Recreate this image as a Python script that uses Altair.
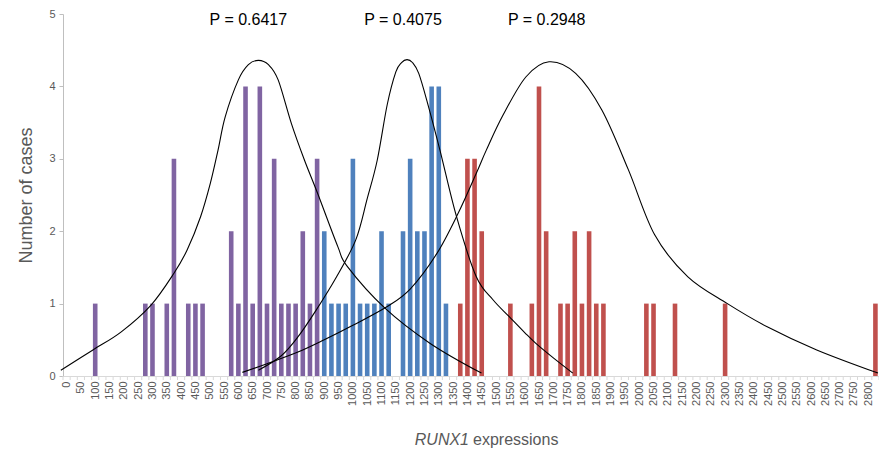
import altair as alt
import pandas as pd

# ---------------- data ----------------
categories = list(range(0, 2850, 25))  # category axis 0 .. 2825 (step 25)

purple_x = [100, 275, 300, 350, 375, 425, 450, 475, 575, 600, 625, 650, 675, 700, 725, 750, 775, 800, 825, 850, 875]
purple_n = [1, 1, 1, 1, 3, 1, 1, 1, 2, 1, 4, 1, 4, 1, 3, 1, 1, 1, 2, 1, 3]

blue_x = [900, 925, 950, 975, 1000, 1025, 1050, 1075, 1100, 1125, 1175, 1200, 1225, 1250, 1275, 1300, 1325]
blue_n = [2, 1, 1, 1, 3, 1, 1, 1, 2, 1, 2, 3, 2, 2, 4, 4, 1]

red_x = [1375, 1400, 1425, 1450, 1550, 1625, 1650, 1675, 1725, 1750, 1775, 1800, 1825, 1850, 1875, 2025, 2050, 2125, 2300, 2825]
red_n = [1, 3, 3, 2, 1, 1, 4, 2, 1, 1, 2, 1, 2, 1, 1, 1, 1, 1, 1, 1]

curve1_x = [-20, 92, 191, 295, 375, 421, 468, 502, 529, 554, 600, 635, 670, 705, 739, 785, 831, 877, 947, 981, 1111, 1270, 1449]
curve1_y = [0.08, 0.36, 0.61, 0.98, 1.42, 1.74, 2.20, 2.66, 3.12, 3.58, 4.09, 4.30, 4.36, 4.30, 4.09, 3.49, 2.98, 2.52, 1.79, 1.51, 0.94, 0.45, 0.04]

curve2_x = [670, 750, 808, 870, 940, 1010, 1050, 1085, 1120, 1150, 1170, 1189, 1208, 1230, 1260, 1304, 1362, 1431, 1490, 1546, 1600, 1639, 1700, 1768]
curve2_y = [0.08, 0.28, 0.54, 0.90, 1.35, 1.88, 2.45, 2.98, 3.75, 4.20, 4.33, 4.37, 4.33, 4.18, 3.78, 3.12, 2.20, 1.37, 1.05, 0.82, 0.60, 0.45, 0.25, 0.04]

curve3_x = [614, 700, 808, 900, 1000, 1120, 1200, 1293, 1368, 1431, 1466, 1524, 1604, 1685, 1778, 1870, 1962, 2054, 2170, 2308, 2447, 2620, 2834]
curve3_y = [0.05, 0.17, 0.33, 0.50, 0.70, 0.96, 1.20, 1.69, 2.25, 2.80, 3.12, 3.60, 4.13, 4.34, 4.18, 3.67, 2.85, 1.95, 1.37, 1.00, 0.68, 0.36, 0.04]

p_labels = ["P = 0.6417", "P = 0.4075", "P = 0.2948"]
p_x = [635, 1175, 1677]
p_y = [4.92, 4.92, 4.92]

groups = ["low", "mid", "high"]
colors = ["#8064a2", "#4f81bd", "#c0504d"]

# ---------------- tables ----------------
bars_df = pd.DataFrame(
    {"x": purple_x + blue_x + red_x,
     "n": purple_n + blue_n + red_n,
     "group": [groups[0]] * len(purple_x) + [groups[1]] * len(blue_x) + [groups[2]] * len(red_x)}
)
curves_df = pd.DataFrame(
    {"x": curve1_x + curve2_x + curve3_x,
     "y": curve1_y + curve2_y + curve3_y,
     "curve": ["c1"] * len(curve1_x) + ["c2"] * len(curve2_x) + ["c3"] * len(curve3_x)}
)
bounds_df = pd.DataFrame({"b": [c - 12.5 for c in categories] + [categories[-1] + 12.5]})
p_df = pd.DataFrame({"label": p_labels, "x": p_x, "y": p_y})

FONT = "Liberation Sans"
GRAY = "#595959"

xscale = alt.Scale(domain=[-12.5, 2837.5], nice=False, zero=False, padding=0)
yscale = alt.Scale(domain=[0, 5], nice=False, padding=0)

x_axis = alt.Axis(values=categories, ticks=False, grid=False,
                  labelExpr="datum.value % 50 == 0 ? datum.label : ''",
                  format="d", labelAngle=-90, labelAlign="right", labelBaseline="middle",
                  labelOverlap=False, labelFlush=False, labelBound=False,
                  labelPadding=5, labelFont=FONT, labelFontSize=11, labelColor=GRAY,
                  domainColor="#d9d9d9")
y_axis = alt.Axis(values=[0, 1, 2, 3, 4, 5], format="d", grid=False, tickSize=4,
                  tickColor="#bfbfbf", domainColor="#bfbfbf",
                  labelFont=FONT, labelFontSize=11, labelColor=GRAY, labelPadding=4,
                  titleFont=FONT, titleFontSize=18, titleFontWeight="normal",
                  titleColor=GRAY, titlePadding=13)

bars = alt.Chart(bars_df).mark_bar(size=4.6).encode(
    x=alt.X("x:Q", scale=xscale, title=None, axis=x_axis),
    y=alt.Y("n:Q", scale=yscale, title="Number of cases", axis=y_axis),
    color=alt.Color("group:N", scale=alt.Scale(domain=groups, range=colors), legend=None),
)

ticks = alt.Chart(bounds_df).mark_rule(color="#d9d9d9", strokeWidth=1).encode(
    x=alt.X("b:Q", scale=xscale, title=None, axis=x_axis),
    y=alt.value(362), y2=alt.value(366),
)

lines = alt.Chart(curves_df).mark_line(color="black", strokeWidth=1.1, interpolate="cardinal").encode(
    x=alt.X("x:Q", scale=xscale, title=None, axis=x_axis),
    y=alt.Y("y:Q", scale=yscale, title="Number of cases", axis=y_axis),
    detail="curve:N",
)

ptext = alt.Chart(p_df).mark_text(font=FONT, fontSize=16, color="black", baseline="middle").encode(
    x=alt.X("x:Q", scale=xscale, title=None, axis=x_axis),
    y=alt.Y("y:Q", scale=yscale, title="Number of cases", axis=y_axis),
    text="label:N",
)

t1 = alt.Chart(pd.DataFrame({"t": ["RUNX1"]})).mark_text(
    font=FONT, fontSize=16, fontStyle="italic", color=GRAY, align="right", baseline="middle"
).encode(x=alt.value(406), y=alt.value(426), text="t:N")

t2 = alt.Chart(pd.DataFrame({"t": ["expressions"]})).mark_text(
    font=FONT, fontSize=16, color=GRAY, align="left", baseline="middle"
).encode(x=alt.value(410), y=alt.value(426), text="t:N")

chart = alt.layer(bars, ticks, lines, ptext, t1, t2).properties(
    width=816, height=362,
    autosize=alt.AutoSizeParams(type="none"),
    padding={"left": 55, "top": 6, "right": 0, "bottom": 75},
).configure_view(stroke=None)

chart.save("out.html", embed_options={"renderer": "svg", "actions": False})
